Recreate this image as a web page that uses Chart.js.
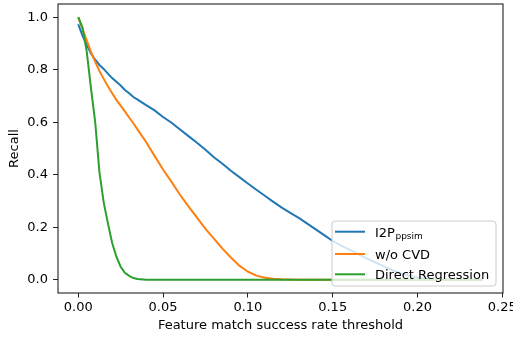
<!DOCTYPE html>
<html>
<head>
<meta charset="utf-8">
<script src="https://cdn.jsdelivr.net/npm/chart.js@4.4.1/dist/chart.umd.min.js"></script>
<style>
    html, body { margin: 0; padding: 0; background: #fff; }
    #wrap { width: 513px; height: 337px; }
</style>
</head>
<body>
<div id="wrap"><canvas id="recallChart" width="513" height="337"></canvas></div>
<script>
// ---------------- Data ----------------
const thresholds = [0, 0.0025, 0.005, 0.0075, 0.01, 0.0125, 0.015, 0.0175, 0.02, 0.0225, 0.025, 0.0275, 0.03, 0.0325, 0.035,
    0.04, 0.045, 0.05, 0.055, 0.06, 0.065, 0.07, 0.075, 0.08, 0.085, 0.09, 0.095, 0.1, 0.105, 0.11, 0.115, 0.12, 0.125,
    0.13, 0.135, 0.14, 0.145, 0.15, 0.155, 0.16, 0.165, 0.17, 0.175, 0.18, 0.185, 0.19, 0.195, 0.2, 0.205, 0.21,
    0.215, 0.22, 0.225, 0.23, 0.235, 0.2385];

const recallI2P = [0.973, 0.93, 0.895, 0.862, 0.838, 0.818, 0.803, 0.785, 0.768, 0.754, 0.740, 0.723, 0.710, 0.696, 0.686,
    0.665, 0.645, 0.620, 0.598, 0.572, 0.547, 0.522, 0.495, 0.467, 0.442, 0.415, 0.391, 0.367, 0.343, 0.320, 0.297, 0.275, 0.255,
    0.236, 0.214, 0.192, 0.170, 0.148, 0.130, 0.115, 0.098, 0.082, 0.067, 0.052, 0.037, 0.025, 0.016, 0.009, 0.004, 0.001,
    0, 0, 0, 0, 0, 0];

const recallNoCVD = [1.0, 0.955, 0.912, 0.868, 0.830, 0.795, 0.765, 0.737, 0.710, 0.685, 0.663, 0.641, 0.618, 0.596, 0.572,
    0.525, 0.472, 0.420, 0.373, 0.324, 0.280, 0.237, 0.194, 0.157, 0.119, 0.085, 0.054, 0.031, 0.016, 0.008, 0.004, 0.002, 0.001,
    0, 0, 0, 0, 0, 0, 0, 0, 0, 0, 0, 0, 0, 0, 0, 0, 0,
    0, 0, 0, 0, 0, 0];

const recallDirect = [1.0, 0.96, 0.87, 0.73, 0.60, 0.41, 0.295, 0.215, 0.14, 0.088, 0.05, 0.027, 0.015, 0.007, 0.003,
    0, 0, 0, 0, 0, 0, 0, 0, 0, 0, 0, 0, 0, 0, 0, 0, 0, 0,
    0, 0, 0, 0, 0, 0, 0, 0, 0, 0, 0, 0, 0, 0, 0, 0, 0,
    0, 0, 0, 0, 0, 0];

const seriesNames = ['I2P_ppsim', 'w/o CVD', 'Direct Regression'];
const seriesColors = ['#1f77b4', '#ff7f0e', '#2ca02c'];
const xTicks = [0, 0.05, 0.10, 0.15, 0.20, 0.25];
const yTicks = [0, 0.2, 0.4, 0.6, 0.8, 1.0];

const FONT = 'DejaVu Sans';

function toPoints(values) {
    return thresholds.map(function(t, i) {
        return { x: t, y: values[i] };
    });
}

// ---------------- Spines + legend ----------------
const mplFrame = {
    id: 'mplFrame',
    afterDraw: function(chart) {
        const ctx = chart.ctx;
        const a = chart.chartArea;
        ctx.save();

        // legend box (drawn over the lines, semi transparent)
        const bx = 332, by = 221, bw = 164, bh = 65, r = 3;
        ctx.beginPath();
        ctx.moveTo(bx + r, by);
        ctx.arcTo(bx + bw, by, bx + bw, by + bh, r);
        ctx.arcTo(bx + bw, by + bh, bx, by + bh, r);
        ctx.arcTo(bx, by + bh, bx, by, r);
        ctx.arcTo(bx, by, bx + bw, by, r);
        ctx.closePath();
        ctx.fillStyle = 'rgba(255,255,255,0.8)';
        ctx.fill();
        ctx.strokeStyle = '#cccccc';
        ctx.lineWidth = 1;
        ctx.stroke();

        const rowY = [231.7, 254, 274.3];
        const baseY = [236.7, 258.8, 279];
        seriesNames.forEach(function(name, i) {
            ctx.strokeStyle = seriesColors[i];
            ctx.lineWidth = 2;
            ctx.beginPath();
            ctx.moveTo(335, rowY[i]);
            ctx.lineTo(365, rowY[i]);
            ctx.stroke();

            let parts = name.split('_');
            ctx.fillStyle = '#000';
            ctx.textBaseline = 'alphabetic';
            ctx.textAlign = 'left';
            ctx.font = '13px "' + FONT + '"';
            ctx.fillText(parts[0], 375, baseY[i]);
            if (parts[1]) {
                let w = ctx.measureText(parts[0]).width;
                ctx.font = '9px "' + FONT + '"';
                ctx.fillText(parts[1], 375 + w + 0.5, baseY[i] + 2);
            }
        });

        // axes frame
        ctx.strokeStyle = '#222';
        ctx.lineWidth = 1.1;
        ctx.strokeRect(a.left, a.top, a.right - a.left, a.bottom - a.top);
        ctx.restore();
    }
};

// ---------------- Chart ----------------
let recallChart;

function drawChart() {
    let ctx = document.getElementById('recallChart').getContext('2d');
    if (recallChart) recallChart.destroy();

    recallChart = new Chart(ctx, {
        type: 'line',
        data: {
            datasets: [{
                label: seriesNames[0],
                data: toPoints(recallI2P),
                borderColor: seriesColors[0],
                order: 2,
            }, {
                label: seriesNames[1],
                data: toPoints(recallNoCVD),
                borderColor: seriesColors[1],
                order: 1,
            }, {
                label: seriesNames[2],
                data: toPoints(recallDirect),
                borderColor: seriesColors[2],
                order: 0,
            }],
        },
        options: {
            responsive: false,
            animation: false,
            devicePixelRatio: 1,
            layout: { padding: { top: 4, right: 10, left: 0, bottom: 0 } },
            elements: {
                line: { borderWidth: 2, tension: 0, fill: false },
                point: { radius: 0, hoverRadius: 0 },
            },
            plugins: {
                legend: { display: false },
                tooltip: { enabled: false },
            },
            scales: {
                x: {
                    type: 'linear',
                    min: -0.01193,
                    max: 0.2504,
                    afterBuildTicks: function(scale) {
                        scale.ticks = xTicks.map(function(v) { return { value: v }; });
                    },
                    afterFit: function(scale) {
                        scale.height = 44;
                        scale.paddingLeft = 0;
                        scale.paddingRight = 0;
                    },
                    grid: { drawOnChartArea: false, tickLength: 4.5, tickColor: '#222', tickWidth: 1 },
                    border: { display: false },
                    ticks: {
                        color: '#000',
                        padding: 2,
                        maxRotation: 0,
                        autoSkip: false,
                        font: { family: FONT, size: 13 },
                        callback: function(v) { return v.toFixed(2); },
                    },
                    title: {
                        display: true,
                        text: 'Feature match success rate threshold',
                        color: '#000',
                        font: { family: FONT, size: 13 },
                        padding: { top: 0, bottom: 4 },
                    },
                },
                y: {
                    type: 'linear',
                    min: -0.05,
                    max: 1.05,
                    afterBuildTicks: function(scale) {
                        scale.ticks = yTicks.map(function(v) { return { value: v }; });
                    },
                    afterFit: function(scale) {
                        scale.width = 58;
                        scale.paddingTop = 0;
                        scale.paddingBottom = 0;
                    },
                    grid: { drawOnChartArea: false, tickLength: 5, tickColor: '#222', tickWidth: 1 },
                    border: { display: false },
                    ticks: {
                        color: '#000',
                        padding: 5,
                        autoSkip: false,
                        font: { family: FONT, size: 13 },
                        callback: function(v) { return v.toFixed(1); },
                    },
                    title: {
                        display: true,
                        text: 'Recall',
                        color: '#000',
                        font: { family: FONT, size: 13 },
                        padding: { top: 7, bottom: 0 },
                    },
                },
            },
        },
        plugins: [mplFrame],
    });
}

drawChart();
</script>
</body>
</html>
